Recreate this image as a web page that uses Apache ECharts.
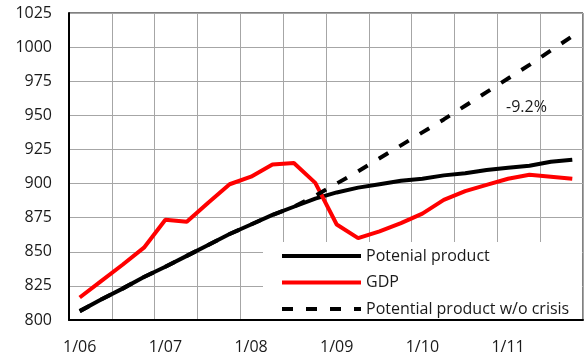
<!DOCTYPE html>
<html>
<head>
<meta charset="utf-8">
<script src="https://cdn.jsdelivr.net/npm/echarts@6/dist/echarts.min.js"></script>
<style>
html,body{margin:0;padding:0;background:#fff;}
#chart{width:584px;height:357px;}
</style>
</head>
<body>
<div id="chart"></div>
<script>
// Quarterly categories 2006Q1 .. 2011Q4
const categories = ['1/06','4/06','7/06','10/06','1/07','4/07','7/07','10/07','1/08','4/08','7/08','10/08',
  '1/09','4/09','7/09','10/09','1/10','4/10','7/10','10/10','1/11','4/11','7/11','10/11'];
const potentialProduct = [806.5,815,823,831.5,839,847,855,863,870,877,883,889,
  893.5,897,899.5,902,903.5,906,907.5,910,911.5,913,916,917.5];
const gdp = [816.5,828.5,840.5,853,873.5,872,886,899.5,905,914,915,900.5,
  870,860,865,871,878,888,894.5,899,903.5,906.5,905,903.5];
const potentialNoCrisis = [806.5,815,823,831.5,839,847,855,863,870,877,883,891,
  900,909,918.5,928,937.5,947,957,967,977,987,997.5,1008];
const yTicks = {min: 800, max: 1025, interval: 25};
const annotation = '-9.2%';
const seriesNames = ['Potenial product','GDP','Potential product w/o crisis'];

const FONT = 'Open Sans';
const chart = echarts.init(document.getElementById('chart'), null, {renderer:'canvas'});
chart.setOption({
  animation: false,
  backgroundColor: '#fff',
  textStyle: {fontFamily: FONT},
  grid: {left: 69, right: 1, top: 13, bottom: 37, show: true, borderColor: '#000', borderWidth: 1},
  xAxis: {
    type: 'category',
    data: categories,
    boundaryGap: true,
    axisLine: {show: true, lineStyle: {color: '#000', width: 2}},
    axisTick: {show: false},
    axisLabel: {interval: 3, margin: 19, fontSize: 16, color: '#1a1a1a', fontFamily: FONT},
    splitLine: {show: true, interval: 1, lineStyle: {color: '#a6a6a6', width: 1}}
  },
  yAxis: {
    type: 'value',
    min: yTicks.min, max: yTicks.max, interval: yTicks.interval,
    axisLine: {show: true, lineStyle: {color: '#000', width: 2}},
    axisTick: {show: false},
    axisLabel: {margin: 17, fontSize: 16, color: '#1a1a1a', fontFamily: FONT,
      formatter: function (v) { return String(v); }},
    splitLine: {show: true, lineStyle: {color: '#a6a6a6', width: 1}}
  },
  legend: {
    orient: 'vertical',
    left: 280, top: 246, padding: 0,
    itemWidth: 79, itemHeight: 14, itemGap: 6.5,
    itemStyle: {color: 'rgba(0,0,0,0)', borderWidth: 0, opacity: 0},
    lineStyle: {width: 4},
    textStyle: {fontSize: 16, color: '#1a1a1a', fontFamily: FONT, lineHeight: 20},
    data: seriesNames,
    z: 5
  },
  graphic: [
    {type: 'rect', left: 263, top: 242, shape: {width: 319, height: 77}, style: {fill: '#fff'}, z: 3},
    {type: 'text', left: 506, top: 99, style: {text: annotation, font: '16px "Open Sans"', fill: '#1a1a1a'}, z: 5}
  ],
  series: [
    {name: seriesNames[0], type: 'line', data: potentialProduct, symbol: 'none', lineStyle: {color: '#000', width: 4}, itemStyle: {color: '#000'}, z: 4},
    {name: seriesNames[1], type: 'line', data: gdp, symbol: 'none', lineStyle: {color: '#ff0000', width: 4}, itemStyle: {color: '#ff0000'}, z: 4},
    {name: seriesNames[2], type: 'line', data: potentialNoCrisis, symbol: 'none', lineStyle: {color: '#000', width: 4, type: [11, 13]}, itemStyle: {color: '#000'}, z: 4}
  ]
});
</script>
</body>
</html>
